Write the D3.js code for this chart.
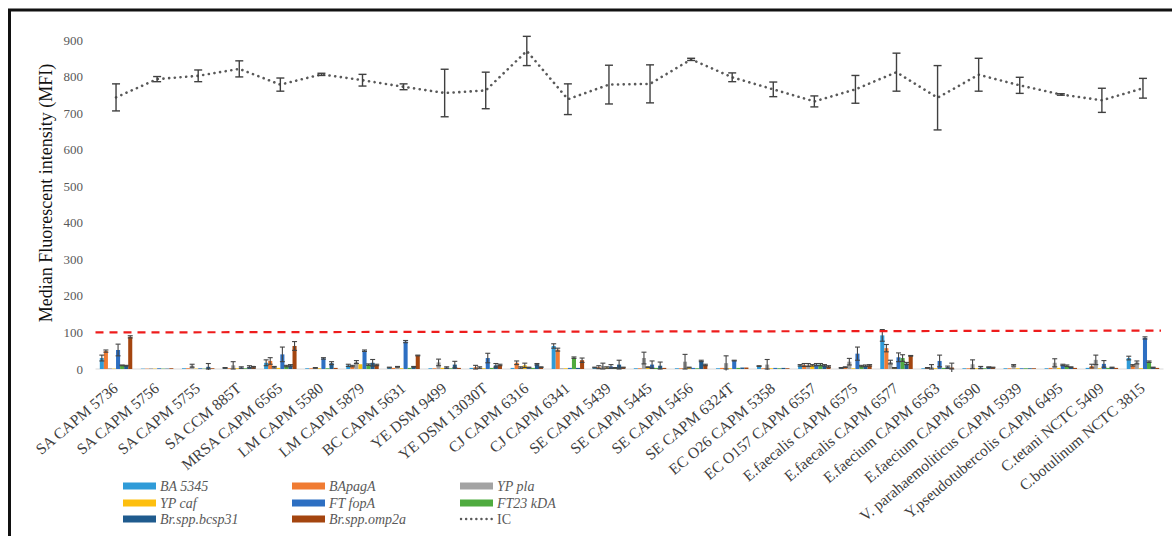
<!DOCTYPE html>
<html>
<head>
<meta charset="utf-8">
<script src="https://cdn.jsdelivr.net/npm/d3@7"></script>
<style>
  html, body { margin: 0; padding: 0; background: #fff; }
  svg { display: block; }
</style>
</head>
<body>
<div id="chart"></div>
<script>
// strains on the x axis
const categories = [
  'SA CAPM 5736', 'SA CAPM 5756', 'SA CAPM 5755', 'SA CCM 885T', 'MRSA CAPM 6565',
  'LM CAPM 5580', 'LM  CAPM 5879', 'BC CAPM 5631', 'YE DSM 9499', 'YE DSM 13030T',
  'CJ  CAPM 6316', 'CJ CAPM 6341', 'SE CAPM 5439', 'SE CAPM 5445', 'SE CAPM 5456',
  'SE CAPM 6324T', 'EC O26 CAPM 5358', 'EC O157 CAPM 6557', 'E.faecalis CAPM 6575',
  'E.faecalis CAPM 6577', 'E.faecium CAPM 6563', 'E.faecium CAPM 6590',
  'V. parahaemoliticus CAPM 5939', 'Y.pseudotubercolis CAPM 6495', 'C.tetani NCTC 5409',
  'C.botulinum NCTC 3815'
];

// probe series (bars)
const series = ['BA 5345', 'BApagA', 'YP pla', 'YP caf', 'FT fopA', 'FT23 kDA', 'Br.spp.bcsp31', 'Br.spp.omp2a'];
const colors = ['#2f9bd8', '#f07b32', '#a3a3a3', '#fdbf0f', '#2d6fc2', '#4fab3f', '#1f5b8e', '#a4450f'];

// MFI per strain, one row per category, columns in series order
const values = [
  [30, 49, 2, 1, 52, 10, 9, 88],
  [1, 1, 2, 1, 2, 1, 1, 2],
  [2, 2, 9, 1, 2, 1, 6, 2],
  [3, 2, 10, 2, 4, 2, 6, 5],
  [17, 22, 5, 3, 40, 8, 10, 63],
  [2, 2, 3, 2, 29, 2, 16, 3],
  [10, 8, 19, 13, 50, 12, 17, 11],
  [4, 3, 6, 2, 75, 3, 6, 37],
  [2, 2, 18, 3, 4, 2, 12, 3],
  [3, 5, 4, 2, 30, 3, 10, 11],
  [3, 17, 4, 10, 4, 3, 13, 5],
  [63, 53, 2, 2, 3, 31, 3, 24],
  [4, 5, 8, 4, 7, 3, 12, 4],
  [2, 2, 30, 5, 12, 3, 9, 3],
  [2, 2, 20, 4, 3, 2, 22, 11],
  [2, 3, 16, 2, 23, 3, 4, 4],
  [8, 2, 12, 2, 3, 2, 3, 2],
  [10, 11, 11, 10, 12, 12, 10, 7],
  [3, 5, 20, 2, 42, 8, 9, 10],
  [92, 57, 19, 3, 32, 30, 15, 36],
  [2, 3, 6, 2, 22, 3, 5, 4],
  [2, 2, 13, 2, 4, 2, 5, 4],
  [2, 2, 10, 2, 2, 2, 2, 2],
  [2, 3, 17, 3, 11, 9, 5, 3],
  [3, 8, 25, 2, 14, 3, 4, 3],
  [30, 10, 18, 2, 85, 20, 4, 3]
];
const errors = [
  [8, 3, 0, 0, 16, 1, 1, 3],
  [0, 0, 0, 0, 0, 0, 0, 0],
  [0, 0, 4, 0, 0, 0, 9, 0],
  [1, 0, 10, 0, 2, 0, 3, 2],
  [8, 9, 2, 0, 20, 2, 2, 12],
  [0, 0, 1, 0, 2, 0, 4, 0],
  [3, 2, 4, 0, 2, 2, 9, 2],
  [1, 0, 1, 0, 3, 0, 1, 1],
  [0, 0, 9, 0, 2, 0, 9, 0],
  [0, 5, 2, 0, 13, 0, 5, 2],
  [0, 5, 2, 6, 1, 0, 2, 1],
  [6, 4, 0, 0, 0, 2, 0, 6],
  [1, 4, 8, 2, 5, 1, 12, 1],
  [0, 0, 16, 1, 10, 0, 10, 0],
  [0, 0, 20, 1, 0, 0, 2, 2],
  [0, 0, 20, 0, 1, 0, 0, 0],
  [1, 0, 14, 0, 0, 0, 0, 0],
  [2, 4, 4, 2, 3, 3, 2, 2],
  [1, 1, 9, 0, 18, 2, 2, 2],
  [16, 10, 5, 1, 12, 9, 3, 1],
  [0, 1, 6, 0, 16, 0, 3, 12],
  [0, 0, 12, 0, 3, 0, 1, 1],
  [0, 0, 2, 0, 0, 0, 0, 0],
  [0, 0, 11, 0, 2, 2, 1, 0],
  [0, 5, 13, 0, 9, 0, 1, 0],
  [5, 2, 4, 0, 3, 2, 1, 0]
];

// internal control (dotted line)
const icValues = [743, 793, 802, 821, 778, 806, 790, 772, 755, 762, 870, 738, 778,
  780, 847, 798, 765, 732, 765, 812, 742, 805, 776, 751, 735, 768];
const icErrors = [37, 7, 16, 22, 18, 3, 16, 8, 65, 50, 40, 42, 53,
  52, 3, 12, 20, 15, 38, 52, 88, 45, 22, 2, 33, 27];

// cutoff (red dashed), value at first and last strain
const cutoff = [100, 105];

const yTicks = [0, 100, 200, 300, 400, 500, 600, 700, 800, 900];

const FONT = '"Liberation Serif", "DejaVu Serif", serif';
const width = 1172, height = 536;
const svg = d3.select('#chart').append('svg')
  .attr('width', width)
  .attr('height', height)
  .attr('font-family', FONT);

// frame
svg.append('line').attr('x1', 8).attr('x2', width).attr('y1', 10).attr('y2', 10)
  .attr('stroke', '#111').attr('stroke-width', 3);
svg.append('line').attr('x1', 9.5).attr('x2', 9.5).attr('y1', 9).attr('y2', height)
  .attr('stroke', '#111').attr('stroke-width', 3);

const x0 = d3.scaleBand().domain(categories).range([95.5, 1163.5])
  .paddingInner(0.21).paddingOuter(0.105);
const x1 = d3.scaleBand().domain(series).range([0, x0.bandwidth()]);
const y = d3.scaleLinear().domain([0, 900]).range([369, 40]);
const cx = c => x0(c) + x0.bandwidth() / 2;

// y tick labels
svg.append('g').selectAll('text').data(yTicks).enter().append('text')
  .attr('font-family', FONT)
  .attr('x', 83).attr('y', d => y(d)).attr('dy', '0.35em')
  .attr('text-anchor', 'end')
  .attr('font-size', 13).attr('fill', '#595959')
  .text(d => d);

// y title
svg.append('text')
  .attr('font-family', FONT)
  .attr('transform', 'translate(52,193) rotate(-90)')
  .attr('text-anchor', 'middle')
  .attr('font-size', 18).attr('fill', '#111')
  .text('Median Fluorescent intensity (MFI)');

// baseline
svg.append('line').attr('x1', 95.5).attr('x2', 1163.5)
  .attr('y1', y(0)).attr('y2', y(0))
  .attr('stroke', '#d9d9d9').attr('stroke-width', 1);

// bars
const groups = svg.append('g').selectAll('g').data(categories).enter().append('g')
  .attr('transform', d => 'translate(' + x0(d) + ',0)');
groups.each(function (c, ci) {
  const g = d3.select(this);
  const rows = series.map((s, si) => ({ s, si, v: values[ci][si], e: errors[ci][si] }));
  g.selectAll('rect').data(rows).enter().append('rect')
    .attr('x', d => x1(d.s))
    .attr('width', x1.bandwidth())
    .attr('y', d => y(d.v))
    .attr('height', d => y(0) - y(d.v))
    .attr('fill', d => colors[d.si]);
  const eb = g.selectAll('g.err').data(rows.filter(d => d.e > 0)).enter().append('g')
    .attr('stroke', '#444').attr('stroke-width', 1.1);
  eb.append('line')
    .attr('x1', d => x1(d.s) + x1.bandwidth() / 2).attr('x2', d => x1(d.s) + x1.bandwidth() / 2)
    .attr('y1', d => y(d.v - d.e)).attr('y2', d => y(d.v + d.e));
  eb.append('line')
    .attr('x1', d => x1(d.s) + x1.bandwidth() / 2 - 2.5).attr('x2', d => x1(d.s) + x1.bandwidth() / 2 + 2.5)
    .attr('y1', d => y(d.v + d.e)).attr('y2', d => y(d.v + d.e));
  eb.append('line')
    .attr('x1', d => x1(d.s) + x1.bandwidth() / 2 - 2.5).attr('x2', d => x1(d.s) + x1.bandwidth() / 2 + 2.5)
    .attr('y1', d => y(Math.max(0, d.v - d.e))).attr('y2', d => y(Math.max(0, d.v - d.e)));
});

// cutoff line
svg.append('line')
  .attr('x1', 95.5).attr('x2', 1161)
  .attr('y1', y(cutoff[0])).attr('y2', y(cutoff[1]))
  .attr('stroke', '#ee1c1c').attr('stroke-width', 2.2)
  .attr('stroke-dasharray', '8,6');

// IC line
const icPts = categories.map((c, i) => ({ c, v: icValues[i], e: icErrors[i] }));
svg.append('path').datum(icPts)
  .attr('d', d3.line().x(d => cx(d.c)).y(d => y(d.v)))
  .attr('fill', 'none').attr('stroke', '#595959').attr('stroke-width', 2.6)
  .attr('stroke-linecap', 'round').attr('stroke-dasharray', '0.1,5.6');
const icErr = svg.append('g').selectAll('g').data(icPts).enter().append('g')
  .attr('stroke', '#404040').attr('stroke-width', 1.4);
icErr.append('line')
  .attr('x1', d => cx(d.c)).attr('x2', d => cx(d.c))
  .attr('y1', d => y(d.v - d.e)).attr('y2', d => y(d.v + d.e));
icErr.append('line')
  .attr('x1', d => cx(d.c) - 4).attr('x2', d => cx(d.c) + 4)
  .attr('y1', d => y(d.v + d.e)).attr('y2', d => y(d.v + d.e));
icErr.append('line')
  .attr('x1', d => cx(d.c) - 4).attr('x2', d => cx(d.c) + 4)
  .attr('y1', d => y(d.v - d.e)).attr('y2', d => y(d.v - d.e));

// category labels
svg.append('g').selectAll('text').data(categories).enter().append('text')
  .attr('font-family', FONT)
  .attr('transform', d => 'translate(' + (cx(d) + 3) + ',390) rotate(-40)')
  .attr('text-anchor', 'end')
  .attr('font-size', 15.5).attr('fill', '#404040')
  .text(d => d);

// legend
const legendItems = series.concat(['IC']);
const legCols = [123, 292, 460];
const legRows = [486, 503, 519];
const leg = svg.append('g').selectAll('g').data(legendItems).enter().append('g')
  .attr('transform', (d, i) => 'translate(' + legCols[i % 3] + ',' + legRows[Math.floor(i / 3)] + ')');
leg.filter(d => d !== 'IC').append('rect')
  .attr('x', 0).attr('y', -3.5).attr('width', 33).attr('height', 7)
  .attr('fill', d => colors[series.indexOf(d)]);
leg.filter(d => d === 'IC').append('line')
  .attr('x1', 1).attr('x2', 33).attr('y1', 0).attr('y2', 0)
  .attr('stroke', '#595959').attr('stroke-width', 2.4)
  .attr('stroke-linecap', 'round').attr('stroke-dasharray', '0.1,5');
leg.append('text')
  .attr('font-family', FONT)
  .attr('x', 37).attr('y', 0).attr('dy', '0.35em')
  .attr('font-size', 14).attr('fill', '#595959')
  .attr('font-style', d => d === 'IC' ? 'normal' : 'italic')
  .text(d => d);
</script>
</body>
</html>
